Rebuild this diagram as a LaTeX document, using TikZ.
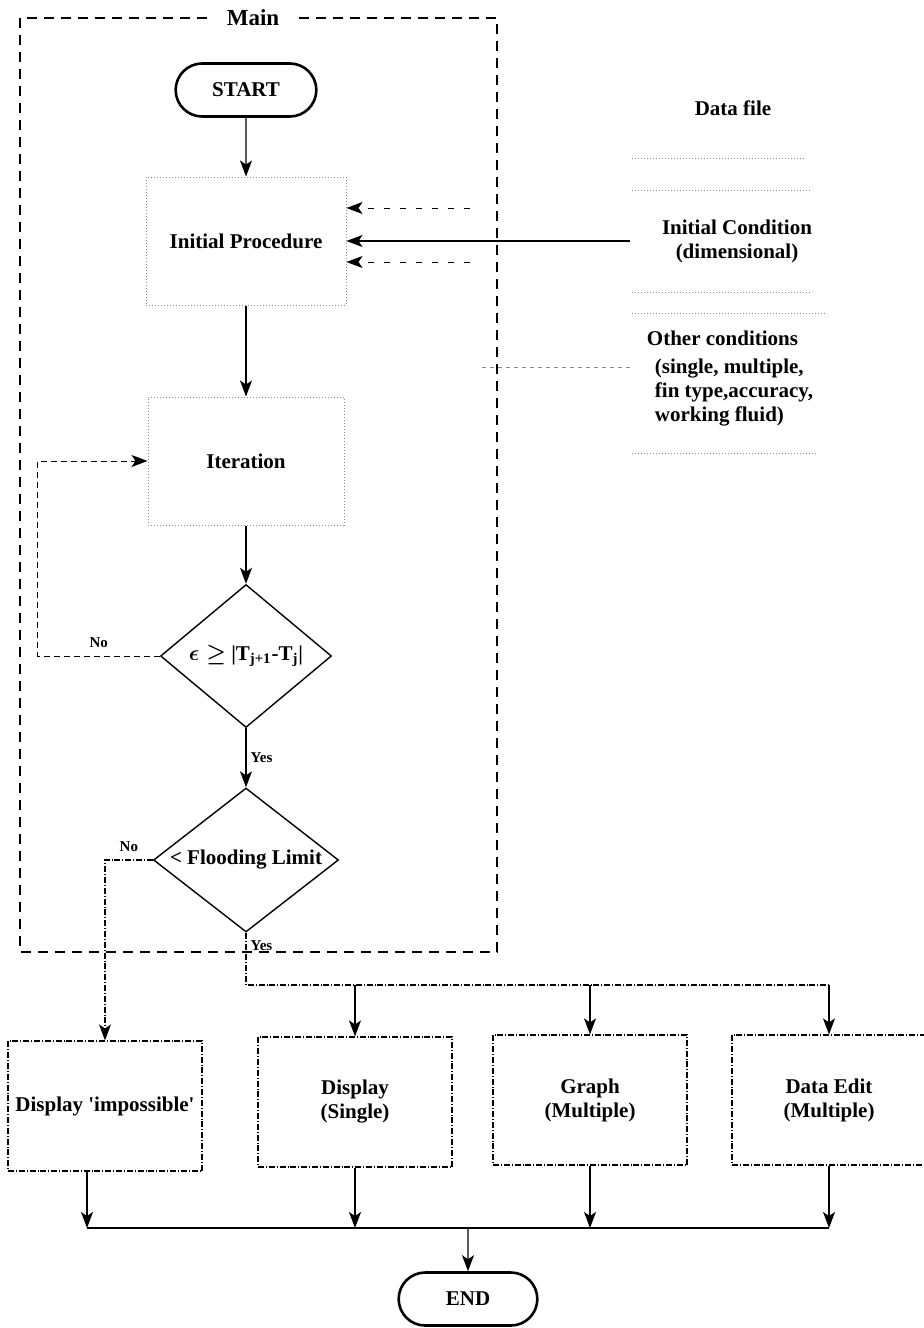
\documentclass[tikz,border=0pt]{standalone}
\usepackage{fontspec}
\setmainfont{Liberation Serif}
\usetikzlibrary{arrows.meta,shapes.geometric,shapes.misc}

\begin{document}
\begin{tikzpicture}[x=0.5pt,y=-0.5pt,
            font=\fontsize{10.5}{12}\selectfont\bfseries,
            arr/.style={-{Stealth[length=8pt,width=6pt,inset=2pt]},line width=0.7pt},
            dfarr/.style={-{Stealth[length=8pt,width=6pt,inset=2pt]},dash pattern=on 3pt off 5pt,line width=0.5pt},
            loopline/.style={-{Stealth[length=8pt,width=6pt,inset=2pt]},dash pattern=on 3pt off 2pt,line width=0.5pt},
            branch/.style={densely dashdotted,line width=0.6pt},
            faint/.style={draw=black!45,densely dotted,line width=0.5pt},
            mainbox/.style={dash pattern=on 5pt off 3.5pt,line width=1pt},
            term/.style={rounded rectangle,draw,line width=1.3pt,minimum width=77pt,minimum height=26.5pt},
            proc/.style={rectangle,faint,minimum width=#1,minimum height=64pt},
            dec/.style={diamond,draw,line width=0.7pt,inner sep=0pt,aspect=1.3},
            outbox/.style={rectangle,draw,densely dashdotted,line width=0.6pt,minimum width=97pt,minimum height=65pt,align=center},
            lbl/.style={font=\fontsize{7.5}{9}\selectfont\bfseries,inner sep=2pt}]
            \useasboundingbox (0,0) rectangle (923,1328);
            \draw[mainbox] (20,18) rectangle (497,952);
            \node[fill=white,inner xsep=10pt,font=\fontsize{11.5}{13}\selectfont\bfseries] (mainlbl) at (253,18) {Main};
            \node[term] (start) at (246,90) {START};
            \node[proc=100pt] (initproc) at (246,241) {Initial Procedure};
            \node[proc=98pt] (iter) at (246,461) {Iteration};
            \node[dec,minimum width=85.5pt,minimum height=71.5pt] (conv) at (246,656)
                {{\boldmath$\epsilon\geq$} |T\textsubscript{j+1}-T\textsubscript{j}|};
            \node[dec,minimum width=92.5pt,minimum height=72pt] (flood) at (246,860) {< Flooding Limit};
            \node (dfile) at (733,108) {Data file};
            \node[align=center] (initcond) at (737,241) {Initial Condition\\ (dimensional)};
            \node[align=left] (othcond) at (730,379)
                {Other conditions\\[2pt] \hspace*{4pt}(single, multiple,\\ \hspace*{4pt}fin type,accuracy,\\ \hspace*{4pt}working fluid)};
            \draw[faint] (632,158) -- (805,158) (632,190) -- (812,190) (632,292) -- (812,292)
                (632,313) -- (825,313) (632,453) -- (818,453);
            \coordinate (dfleft) at (630,0);
            \coordinate (dfa) at (470,208);
            \coordinate (dfb) at (470,262);
            \coordinate (ocend) at (478,367);
            \draw[arr] (initcond.west -| dfleft) -- (initcond.west -| initproc.east);
            \draw[dfarr] (dfa) -- (dfa -| initproc.east);
            \draw[dfarr] (dfb) -- (dfb -| initproc.east);
            \draw[faint,dash pattern=on 2pt off 2pt] (ocend -| dfleft) -- (ocend);
            \draw[arr] (start) -- (initproc);
            \draw[arr] (initproc) -- (iter);
            \draw[arr] (iter) -- (conv);
            \draw[arr] (conv) -- node[lbl,right] (yes1) {Yes} (flood);
            \draw[loopline] (conv.west) -- node[lbl,above=2pt] (no1) {No} ++(-122,0) |- (iter.west);
            \node[outbox] (imp) at (105,1106) {Display \textquotesingle impossible\textquotesingle};
            \node[outbox] (disp) at (355,1102) {Display\\ (Single)};
            \node[outbox] (graph) at (590,1100) {Graph\\ (Multiple)};
            \node[outbox] (edit) at (829,1100) {Data Edit\\ (Multiple)};
            \draw[branch,-{Stealth[length=8pt,width=6pt,inset=2pt]}] (flood.west) -- node[lbl,above=2pt] (no2) {No}
                (flood.west -| imp.north) -- (imp.north);
            \coordinate (br) at (246,985);
            \draw[branch] (flood.south) -- node[lbl,right,pos=0.25] (yes2) {Yes} (br) -- (br -| edit.north);
            \foreach \n in {disp,graph,edit}
                \draw[arr] (br -| \n.north) -- (\n.north);
            \coordinate (mrg) at (468,1228);
            \node[term,minimum width=76pt] (endn) at (468,1299) {END};
            \draw[arr] ([xshift=-9pt]imp.south) -- ([xshift=-9pt]imp.south |- mrg);
            \foreach \n in {disp,graph,edit}
                \draw[arr] (\n.south) -- (\n.south |- mrg);
            \draw[line width=0.7pt] ([xshift=-9pt]imp.south |- mrg) -- (edit.south |- mrg);
            \draw[arr] (mrg) -- (endn);
        \end{tikzpicture}
\end{document}
